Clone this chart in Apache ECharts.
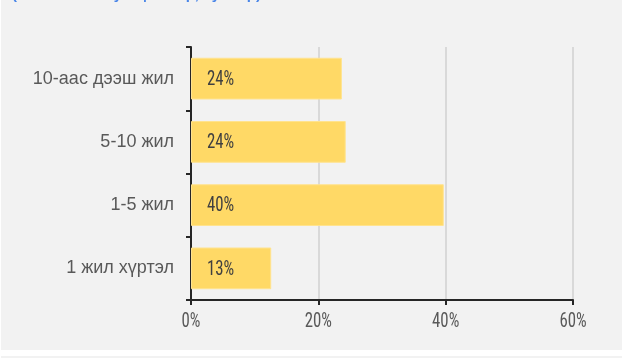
<!DOCTYPE html>
<html>
<head>
<meta charset="utf-8">
<script src="https://cdn.jsdelivr.net/npm/echarts@6/dist/echarts.min.js"></script>
<style>
  html, body { margin: 0; padding: 0; background: #ffffff; }
  #chart { width: 622px; height: 358px; }
</style>
</head>
<body>
<div id="chart"></div>
<script>
// Ажилласан хугацааны ангилал (доороос дээш)
const categories = ['1 жил хүртэл', '1-5 жил', '5-10 жил', '10-аас дээш жил'];
// Эзлэх хувь, %
const shares = [12.6, 39.7, 24.3, 23.7];
// Хэвтээ тэнхлэгийн хуваарь
const axisMin = 0;
const axisMax = 60;
const axisStep = 20;
const tickValues = [0, 20, 40, 60];
const subtitle = '(Ажилласан хугацаагаар, хувиар)';

// Нарийн тоон бичгийн хэв
const narrowFont = '400 21px "Roboto Condensed"';
const narrowScale = 0.8;

const pct = v => Math.round(v) + '%';

const chart = echarts.init(document.getElementById('chart'), null, { renderer: 'canvas' });

chart.setOption({
  backgroundColor: '#f2f2f2',
  animation: false,
  grid: { left: 191, right: 49, top: 47, bottom: 58, containLabel: false },
  graphic: [
    { type: 'rect', left: 0, top: 0, shape: { width: 1, height: 358 }, style: { fill: '#ffffff' }, silent: true },
    { type: 'rect', left: 0, top: 350, shape: { width: 622, height: 6 }, style: { fill: '#ffffff' }, silent: true },
    {
      type: 'text', left: 12, top: -13,
      style: { text: subtitle, fill: '#4a86e8', font: 'bold 15px "Liberation Sans"' },
      silent: true
    }
  ],
  xAxis: {
    type: 'value',
    min: axisMin,
    max: axisMax,
    interval: axisStep,
    axisLine: { show: true, lineStyle: { color: '#262626', width: 2 } },
    axisTick: { show: true, length: 5, lineStyle: { color: '#262626', width: 2 } },
    axisLabel: { show: false },
    splitLine: { show: true, lineStyle: { color: '#d9d9d9', width: 2 } }
  },
  yAxis: {
    type: 'category',
    data: categories,
    axisLine: { show: true, lineStyle: { color: '#262626', width: 2 } },
    axisTick: { show: true, length: 5, lineStyle: { color: '#262626', width: 2 } },
    axisLabel: {
      color: '#595959',
      fontFamily: 'Liberation Sans',
      fontSize: 18,
      margin: 17
    }
  },
  series: [
    {
      type: 'bar',
      data: shares,
      barCategoryGap: '34%',
      itemStyle: { color: '#ffd966', borderColor: '#ffe38f', borderWidth: 1 }
    },
    {
      // Баганы доторх хувийн шошго
      type: 'custom',
      z: 5,
      data: shares.map((v, i) => [v, i]),
      encode: { x: 0, y: 1 },
      renderItem: (params, api) => {
        const p = api.coord([0, api.value(1)]);
        return {
          type: 'text',
          x: p[0] + 16,
          y: p[1] + 1,
          scaleX: narrowScale,
          style: {
            text: pct(api.value(0)),
            font: narrowFont,
            fill: '#404040',
            align: 'left',
            verticalAlign: 'middle'
          }
        };
      }
    },
    {
      // Хэвтээ тэнхлэгийн хуваарийн шошго
      type: 'custom',
      z: 5,
      clip: false,
      data: tickValues.map(v => [v, 0]),
      encode: { x: 0, y: 1 },
      renderItem: (params, api) => {
        const p = api.coord([api.value(0), 0]);
        const bottom = params.coordSys.y + params.coordSys.height;
        return {
          type: 'text',
          x: p[0],
          y: bottom + 22,
          scaleX: narrowScale,
          style: {
            text: pct(api.value(0)),
            font: narrowFont,
            fill: '#595959',
            align: 'center',
            verticalAlign: 'middle'
          }
        };
      }
    }
  ]
});
</script>
</body>
</html>
